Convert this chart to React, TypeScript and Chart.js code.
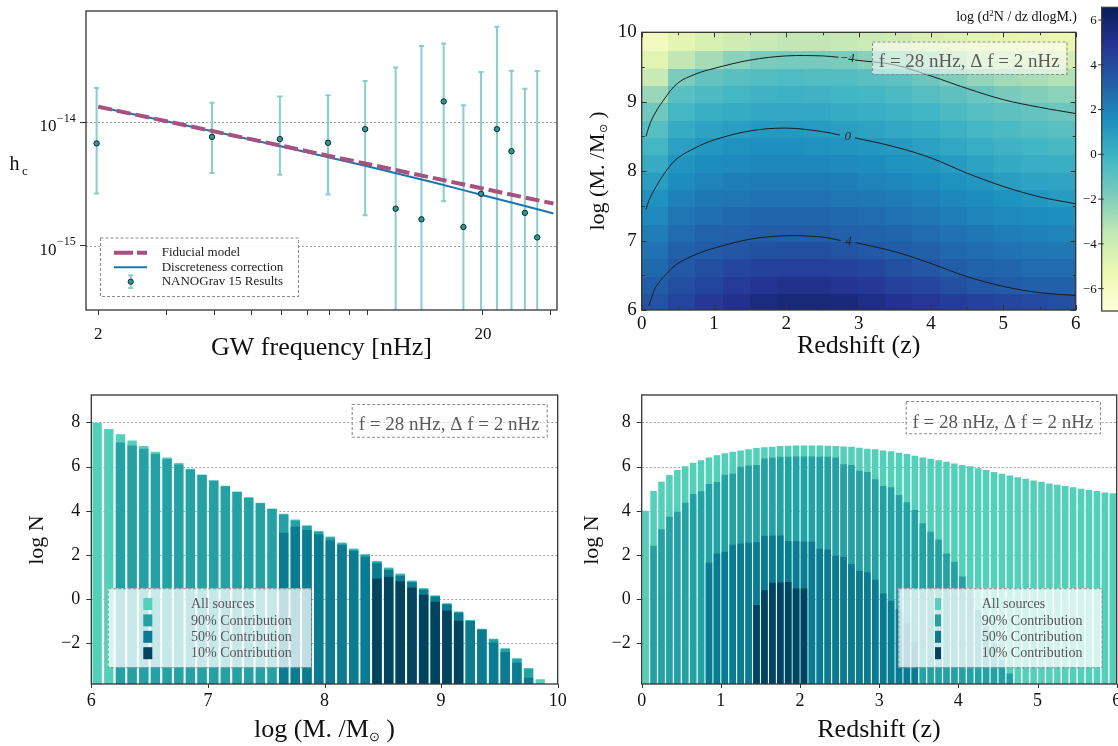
import React, { useEffect, useRef } from "react";
import { Chart, registerables } from "chart.js";
Chart.register(...registerables);

const SERIF = '"Liberation Serif", "Times New Roman", Times, serif';

// ================= Panel A: characteristic strain =================
const FREQ_NHZ = [1.98, 3.95, 5.93, 7.91, 9.88, 11.86, 13.84, 15.81, 17.79, 19.77, 21.74, 23.72, 25.7, 27.67];
const HC_MEDIAN = [6.76e-15, 7.64e-15, 7.33e-15, 6.84e-15, 8.83e-15, 2.0e-15, 1.64e-15, 1.48e-14, 1.42e-15, 2.64e-15, 8.83e-15, 5.85e-15, 1.85e-15, 1.17e-15];
const HC_UPPER = [1.905e-14, 1.445e-14, 1.62e-14, 1.66e-14, 2.17e-14, 2.79e-14, 4.16e-14, 4.37e-14, 1.38e-14, 2.56e-14, 5.97e-14, 2.62e-14, 1.875e-14, 2.61e-14];
const HC_LOWER = [2.65e-15, 3.89e-15, 3.76e-15, 2.61e-15, 1.77e-15, 1e-17, 1e-17, 2.3e-15, 1e-17, 1e-17, 1e-17, 1e-17, 1e-17, 1e-17];
const FIDUCIAL_F = [2.0, 30.5];
const FIDUCIAL_HC = [1.34e-14, 2.2e-15];
const DISCRETE_F = [2.0, 4.0, 6.0, 10.0, 15.0, 20.0, 25.0, 30.5];
const DISCRETE_HC = [1.34e-14, 8.43e-15, 6.38e-15, 4.41e-15, 3.24e-15, 2.57e-15, 2.15e-15, 1.83e-15];
const FREQ_MIN = 1.858;
const FREQ_MAX = 31.15;
const HC_MIN = 3.02e-16;
const HC_MAX = 8.0e-14;
const FREQ_TICKS = [2, 3, 4, 5, 6, 7, 8, 9, 10, 20, 30];
const FREQ_LABELED = [2, 20];
const HC_TICKS = [1e-15, 1e-14];

// ================= Panel B: heat map =================
const Z_EDGES = [0, 0.375, 0.75, 1.125, 1.5, 1.875, 2.25, 2.625, 3.0, 3.375, 3.75, 4.125, 4.5, 4.875, 5.25, 5.625, 6.0];
const M_EDGES = [6.0, 6.25, 6.5, 6.75, 7.0, 7.25, 7.5, 7.75, 8.0, 8.25, 8.5, 8.75, 9.0, 9.25, 9.5, 9.75, 10.0];
// one column per redshift bin, values from low mass (bottom) to high mass (top)
const HEAT_BY_Z = [
  [3.6, 3.2, 2.8, 2.5, 2.1, 1.7, 1.4, 0.9, 0.3, -0.3, -0.8, -1.5, -2.5, -3.7, -4.8, -5.9],
  [4.2, 3.8, 3.4, 3.1, 2.7, 2.4, 2.0, 1.6, 1.3, 0.8, 0.3, -0.3, -0.9, -1.8, -3.5, -4.9],
  [4.7, 4.2, 3.8, 3.3, 3.0, 2.6, 2.3, 1.9, 1.6, 1.2, 0.7, 0.1, -0.5, -1.2, -2.8, -4.4],
  [5.1, 4.6, 4.1, 3.5, 3.1, 2.8, 2.4, 2.1, 1.7, 1.4, 0.9, 0.3, -0.3, -0.9, -2.2, -4.0],
  [5.5, 4.9, 4.3, 3.7, 3.2, 2.9, 2.5, 2.2, 1.8, 1.5, 1.1, 0.5, -0.1, -0.7, -1.8, -3.7],
  [5.7, 5.1, 4.4, 3.8, 3.2, 2.9, 2.5, 2.2, 1.8, 1.5, 1.1, 0.5, 0.0, -0.6, -1.7, -3.5],
  [5.7, 5.1, 4.4, 3.8, 3.2, 2.9, 2.5, 2.2, 1.8, 1.4, 1.0, 0.5, -0.1, -0.7, -1.7, -3.5],
  [5.6, 4.9, 4.3, 3.6, 3.1, 2.8, 2.4, 2.1, 1.7, 1.3, 0.9, 0.3, -0.2, -0.7, -1.8, -3.6],
  [5.3, 4.7, 4.1, 3.4, 3.0, 2.7, 2.3, 1.9, 1.6, 1.2, 0.7, 0.2, -0.3, -0.9, -2.1, -3.8],
  [5.0, 4.4, 3.8, 3.2, 2.9, 2.5, 2.2, 1.8, 1.4, 1.1, 0.5, 0.0, -0.5, -1.0, -2.4, -4.0],
  [4.8, 4.1, 3.5, 3.1, 2.7, 2.3, 2.0, 1.6, 1.3, 0.8, 0.3, -0.2, -0.8, -1.4, -2.8, -4.3],
  [4.5, 3.8, 3.2, 2.8, 2.5, 2.1, 1.8, 1.4, 1.0, 0.5, 0.0, -0.5, -1.0, -1.9, -3.2, -4.6],
  [4.3, 3.5, 3.0, 2.7, 2.3, 1.9, 1.6, 1.2, 0.7, 0.2, -0.3, -0.8, -1.3, -2.4, -3.6, -4.8],
  [4.1, 3.3, 2.9, 2.5, 2.1, 1.7, 1.4, 0.9, 0.4, -0.1, -0.5, -1.0, -1.7, -2.7, -3.9, -5.0],
  [4.0, 3.1, 2.7, 2.4, 2.0, 1.6, 1.2, 0.7, 0.2, -0.2, -0.7, -1.2, -2.0, -2.9, -4.0, -5.1],
  [3.8, 3.1, 2.7, 2.3, 1.9, 1.5, 1.0, 0.6, 0.1, -0.4, -0.9, -1.4, -2.2, -3.1, -4.2, -5.2],
];
const CB_MIN = -7.0;
const CB_MAX = 6.57;
const CB_TICKS = [6, 4, 2, 0, -2, -4, -6];
const CONTOUR_A_Z = [0.06, 0.1, 0.16, 0.3, 0.5, 0.75, 1.0, 1.5, 2.0, 2.5, 2.72, 2.84, 2.95, 3.5, 4.0, 4.5, 5.0, 5.5, 6.0];
const CONTOUR_A_M = [8.5, 8.64, 8.79, 9.02, 9.27, 9.4, 9.48, 9.6, 9.66, 9.66, 9.64, null, 9.6, 9.53, 9.37, 9.19, 9.03, 8.92, 8.83];
const CONTOUR_B_Z = [0.06, 0.1, 0.2, 0.35, 0.5, 0.75, 1.0, 1.5, 2.0, 2.5, 2.74, 2.84, 2.95, 3.5, 4.0, 4.5, 5.0, 5.5, 6.0];
const CONTOUR_B_M = [7.45, 7.58, 7.78, 8.02, 8.19, 8.34, 8.45, 8.58, 8.62, 8.57, 8.52, null, 8.48, 8.35, 8.19, 7.97, 7.78, 7.63, 7.53];
const CONTOUR_C_Z = [0.1, 0.15, 0.2, 0.35, 0.5, 0.75, 1.0, 1.5, 2.0, 2.5, 2.75, 2.86, 2.96, 3.5, 4.0, 4.5, 5.0, 5.5, 6.0];
const CONTOUR_C_M = [6.06, 6.22, 6.34, 6.53, 6.67, 6.8, 6.89, 7.02, 7.07, 7.05, 7.0, null, 6.97, 6.84, 6.67, 6.48, 6.34, 6.25, 6.21];
const CONTOUR_LABEL_Z = [2.84, 2.85, 2.86];
const CONTOUR_LABEL_M = [9.62, 8.5, 6.985];
const CONTOUR_LABEL_TEXT = ["\u22124", "0", "4"];

// ================= Panels C, D: log N histograms =================
const MASS_BINS = [6.05, 6.15, 6.25, 6.35, 6.45, 6.55, 6.65, 6.75, 6.85, 6.95, 7.05, 7.15, 7.25, 7.35, 7.45, 7.55, 7.65, 7.75, 7.85, 7.95, 8.05, 8.15, 8.25, 8.35, 8.45, 8.55, 8.65, 8.75, 8.85, 8.95, 9.05, 9.15, 9.25, 9.35, 9.45, 9.55, 9.65, 9.75, 9.85, 9.95];
const MASS_ALL = [7.98, 7.7, 7.46, 7.18, 6.93, 6.67, 6.41, 6.16, 5.9, 5.64, 5.38, 5.13, 4.87, 4.61, 4.36, 4.1, 3.86, 3.6, 3.35, 3.09, 2.84, 2.56, 2.29, 2.04, 1.73, 1.43, 1.16, 0.84, 0.5, 0.18, -0.18, -0.56, -0.94, -1.34, -1.79, -2.22, -2.67, -3.12, -3.62, null];
const MASS_P90 = [null, null, 7.09, 6.96, 6.81, 6.57, 6.34, 6.1, 5.87, 5.62, 5.36, 5.11, 4.85, 4.59, 4.34, 4.08, 3.83, 3.56, 3.31, 3.05, 2.8, 2.52, 2.25, 2.0, 1.69, 1.39, 1.12, 0.8, 0.46, 0.14, -0.21, -0.59, -0.97, -1.36, -1.82, -2.25, -2.7, -3.15, null, null];
const MASS_P50 = [null, null, null, null, null, null, null, null, null, null, null, null, null, null, null, null, 3.01, 3.28, 3.13, 2.93, 2.67, 2.45, 2.18, 1.92, 1.62, 1.32, 1.05, 0.76, 0.43, 0.11, -0.24, -0.62, -0.99, -1.38, -1.96, -2.39, -2.88, -3.56, null, null];
const MASS_P10 = [null, null, null, null, null, null, null, null, null, null, null, null, null, null, null, null, null, null, null, null, null, null, null, null, 0.92, 1.01, 0.81, 0.53, 0.2, -0.12, -0.51, -0.98, null, null, null, null, null, null, null, null];

const Z_BINS = [0.05, 0.15, 0.25, 0.35, 0.45, 0.55, 0.65, 0.75, 0.85, 0.95, 1.05, 1.15, 1.25, 1.35, 1.45, 1.55, 1.65, 1.75, 1.85, 1.95, 2.05, 2.15, 2.25, 2.35, 2.45, 2.55, 2.65, 2.75, 2.85, 2.95, 3.05, 3.15, 3.25, 3.35, 3.45, 3.55, 3.65, 3.75, 3.85, 3.95, 4.05, 4.15, 4.25, 4.35, 4.45, 4.55, 4.65, 4.75, 4.85, 4.95, 5.05, 5.15, 5.25, 5.35, 5.45, 5.55, 5.65, 5.75, 5.85, 5.95];
const Z_ALL = [4.0, 4.89, 5.31, 5.62, 5.84, 6.02, 6.17, 6.29, 6.41, 6.51, 6.6, 6.67, 6.73, 6.79, 6.84, 6.87, 6.9, 6.93, 6.94, 6.95, 6.95, 6.95, 6.95, 6.94, 6.93, 6.91, 6.9, 6.85, 6.81, 6.78, 6.73, 6.69, 6.63, 6.57, 6.49, 6.41, 6.35, 6.29, 6.22, 6.14, 6.07, 6.01, 5.92, 5.84, 5.75, 5.68, 5.6, 5.52, 5.45, 5.37, 5.31, 5.24, 5.18, 5.12, 5.06, 5.0, 4.94, 4.89, 4.83, 4.79];
const Z_P90 = [null, 2.42, 3.16, 3.73, 3.96, 4.36, 4.76, 4.88, 5.21, 5.3, 5.63, 5.69, 5.99, 6.05, 6.07, 6.37, 6.41, 6.44, 6.44, 6.46, 6.46, 6.46, 6.44, 6.44, 6.41, 6.11, 6.07, 5.81, 5.75, 5.43, 5.12, 5.06, 4.71, 4.39, 4.03, 3.43, 3.05, 2.7, 2.07, 1.69, 1.02, 0.41, -0.49, -1.25, -2.0, -2.76, -3.36, null, null, null, null, null, null, null, null, null, null, null, null, null];
const Z_P50 = [null, null, null, null, null, null, null, null, 1.65, 2.07, 2.15, 2.46, 2.52, 2.55, 2.58, 2.87, 2.88, 2.88, 2.63, 2.62, 2.61, 2.6, 2.28, 2.25, 1.97, 1.92, 1.59, 1.27, 1.22, 0.88, 0.26, -0.07, -0.45, -1.1, -1.93, null, null, null, null, null, null, null, null, null, null, null, null, null, null, null, null, null, null, null, null, null, null, null, null, null];
const Z_P10 = [null, null, null, null, null, null, null, null, null, null, null, null, null, null, -0.27, 0.4, 0.74, 0.75, 0.78, 0.48, 0.48, null, null, null, null, null, null, null, null, null, null, null, null, null, null, null, null, null, null, null, null, null, null, null, null, null, null, null, null, null, null, null, null, null, null, null, null, null, null, null];
const LOGN_MIN = -3.84;
const LOGN_MAX = 9.24;
const LOGN_TICKS = [-2, 0, 2, 4, 6, 8];
const LEGEND_LABELS = ["All sources", "90% Contribution", "50% Contribution", "10% Contribution"];
const ANNOTATION = "f = 28 nHz, \u0394 f = 2 nHz";

// ================= styles =================
const COL_FID = "#a8517e";
const COL_DISC = "#1c76ae";
const COL_ERR = "#84d0ce";
const COL_PT = "#2a9896";
const BAR_COLS = ["#52d1ba", "#23a2a6", "#097b93", "#02445f"];
const YLGNBU = [[255, 255, 217], [237, 248, 177], [199, 233, 180], [127, 205, 187], [65, 182, 196], [29, 145, 192], [34, 94, 168], [37, 52, 148], [8, 29, 88]];

function cmap(v: number) {
  let t = (v - CB_MIN) / (CB_MAX - CB_MIN);
  t = Math.max(0, Math.min(1, t));
  const p = t * 8;
  const i = Math.min(7, Math.floor(p));
  const f = p - i;
  const a = YLGNBU[i], b = YLGNBU[i + 1];
  const c = (k: number) => Math.round(a[k] + (b[k] - a[k]) * f);
  return `rgb(${c(0)},${c(1)},${c(2)})`;
}

function fmtNum(v: number) {
  return v < 0 ? "\u2212" + Math.abs(v) : String(v);
}

type Seg = { t: string; s: number; dy?: number; st?: string };
function drawRich(ctx: any, segs: Seg[], x: number, y: number, align: string, rotate: boolean, color: string) {
  ctx.save();
  ctx.fillStyle = color;
  ctx.textBaseline = "alphabetic";
  ctx.textAlign = "left";
  const fontOf = (g: Seg) => `${g.st ? g.st + " " : ""}${g.s}px ${SERIF}`;
  let total = 0;
  const ws = segs.map((g) => {
    ctx.font = fontOf(g);
    const w = ctx.measureText(g.t).width;
    total += w;
    return w;
  });
  ctx.translate(x, y);
  if (rotate) ctx.rotate(-Math.PI / 2);
  let cx = align === "center" ? -total / 2 : align === "right" ? -total : 0;
  segs.forEach((g, i) => {
    ctx.font = fontOf(g);
    ctx.fillText(g.t, cx, g.dy || 0);
    cx += ws[i];
  });
  ctx.restore();
}

function frame(ctx: any, ca: any) {
  ctx.save();
  ctx.setLineDash([]);
  ctx.strokeStyle = "#333";
  ctx.lineWidth = 1.3;
  ctx.strokeRect(ca.left, ca.top, ca.right - ca.left, ca.bottom - ca.top);
  ctx.restore();
}

function hGrid(ctx: any, chart: any, values: number[]) {
  const ca = chart.chartArea;
  const s = chart.scales.y;
  ctx.save();
  ctx.strokeStyle = "#8a8a8a";
  ctx.lineWidth = 0.8;
  ctx.setLineDash([2, 2]);
  values.forEach((v) => {
    const y = Math.round(s.getPixelForValue(v)) + 0.5;
    ctx.beginPath();
    ctx.moveTo(ca.left, y);
    ctx.lineTo(ca.right, y);
    ctx.stroke();
  });
  ctx.restore();
}

function dashedBox(ctx: any, x0: number, y0: number, x1: number, y1: number, alpha: number) {
  ctx.save();
  ctx.fillStyle = `rgba(255,255,255,${alpha})`;
  ctx.fillRect(x0, y0, x1 - x0, y1 - y0);
  ctx.strokeStyle = "#8c8c8c";
  ctx.lineWidth = 1.1;
  ctx.setLineDash([3, 2]);
  ctx.strokeRect(x0 + 0.5, y0 + 0.5, x1 - x0, y1 - y0);
  ctx.restore();
}

function annotation(ctx: any, x0: number, y0: number, x1: number, y1: number, base: number, alpha: number) {
  dashedBox(ctx, x0, y0, x1, y1, alpha);
  ctx.save();
  ctx.fillStyle = "#5a5a5a";
  ctx.font = `19px ${SERIF}`;
  ctx.textAlign = "center";
  ctx.textBaseline = "alphabetic";
  ctx.fillText(ANNOTATION, (x0 + x1) / 2, base);
  ctx.restore();
}

const baseOpts = (padTop: number, padRight: number) => ({
  responsive: false,
  animation: false as const,
  events: [] as any[],
  layout: { padding: { top: padTop, right: padRight, left: 0, bottom: 0 } },
  plugins: { legend: { display: false }, tooltip: { enabled: false } },
});

// ---------------- Panel A ----------------
function buildTL() {
  const OX = 0, OY = 0;
  const plugin = {
    id: "panelA",
    beforeDatasetsDraw(chart: any) {
      const { ctx, chartArea: ca, scales } = chart;
      hGrid(ctx, chart, HC_TICKS);
      ctx.save();
      ctx.beginPath();
      ctx.rect(ca.left, ca.top, ca.right - ca.left, ca.bottom - ca.top);
      ctx.clip();
      ctx.strokeStyle = COL_ERR;
      ctx.lineWidth = 2;
      FREQ_NHZ.forEach((f, i) => {
        const x = scales.x.getPixelForValue(f);
        const yt = scales.y.getPixelForValue(HC_UPPER[i]);
        const yb = scales.y.getPixelForValue(HC_LOWER[i]);
        ctx.beginPath();
        ctx.moveTo(x, yt);
        ctx.lineTo(x, yb);
        ctx.moveTo(x - 2.5, yt);
        ctx.lineTo(x + 2.5, yt);
        ctx.moveTo(x - 2.5, yb);
        ctx.lineTo(x + 2.5, yb);
        ctx.stroke();
      });
      ctx.restore();
    },
    afterDatasetsDraw(chart: any) {
      const { ctx, chartArea: ca } = chart;
      ctx.save();
      ctx.translate(-OX, -OY);
      dashedBox(ctx, 100, 237.5, 298, 296, 0.9);
      ctx.strokeStyle = COL_FID;
      ctx.lineWidth = 4;
      ctx.setLineDash([19, 4]);
      ctx.beginPath();
      ctx.moveTo(114, 252.7);
      ctx.lineTo(147, 252.7);
      ctx.stroke();
      ctx.setLineDash([]);
      ctx.strokeStyle = COL_DISC;
      ctx.lineWidth = 2;
      ctx.beginPath();
      ctx.moveTo(114, 267.3);
      ctx.lineTo(147, 267.3);
      ctx.stroke();
      ctx.strokeStyle = COL_ERR;
      ctx.lineWidth = 2;
      ctx.beginPath();
      ctx.moveTo(130.7, 275.3);
      ctx.lineTo(130.7, 288);
      ctx.moveTo(128.2, 275.3);
      ctx.lineTo(133.2, 275.3);
      ctx.moveTo(128.2, 288);
      ctx.lineTo(133.2, 288);
      ctx.stroke();
      ctx.fillStyle = COL_PT;
      ctx.strokeStyle = "#0b2b2b";
      ctx.lineWidth = 1;
      ctx.beginPath();
      ctx.arc(130.7, 281.7, 2.6, 0, Math.PI * 2);
      ctx.fill();
      ctx.stroke();
      ctx.fillStyle = "#222";
      ctx.font = `13px ${SERIF}`;
      ctx.textBaseline = "middle";
      ctx.textAlign = "left";
      ctx.fillText("Fiducial model", 161.7, 252.7);
      ctx.fillText("Discreteness correction", 161.7, 267.3);
      ctx.fillText("NANOGrav 15 Results", 161.7, 281.7);
      ctx.restore();
      frame(ctx, ca);
    },
    afterDraw(chart: any) {
      const { ctx, scales } = chart;
      HC_TICKS.forEach((v) => {
        const y = scales.y.getPixelForValue(v);
        const exp = Math.round(Math.log10(v));
        drawRich(ctx, [{ t: "10", s: 17 }], 56.5 - OX, y + 8.7, "right", false, "#111");
        drawRich(ctx, [{ t: fmtNum(exp), s: 12 }], 57 - OX, y - 0.8, "left", false, "#111");
      });
      ctx.save();
      ctx.translate(-OX, -OY);
      drawRich(ctx, [{ t: "h", s: 20 }], 9.5, 170, "left", false, "#111");
      drawRich(ctx, [{ t: "c", s: 13 }], 22, 175, "left", false, "#111");
      drawRich(ctx, [{ t: "GW frequency [nHz]", s: 26 }], 321.5, 355, "center", false, "#111");
      ctx.restore();
    },
  };
  return {
    type: "scatter",
    data: {
      datasets: [
        {
          label: "NANOGrav 15 Results",
          data: FREQ_NHZ.map((f, i) => ({ x: f, y: HC_MEDIAN[i] })),
          pointRadius: 2.7,
          pointBackgroundColor: COL_PT,
          pointBorderColor: "#0b2b2b",
          pointBorderWidth: 1,
          order: 0,
        },
        {
          label: "Fiducial model",
          data: FIDUCIAL_F.map((f, i) => ({ x: f, y: FIDUCIAL_HC[i] })),
          showLine: true,
          borderColor: COL_FID,
          borderWidth: 4,
          borderDash: [14, 5],
          pointRadius: 0,
          order: 1,
        },
        {
          label: "Discreteness correction",
          data: DISCRETE_F.map((f, i) => ({ x: f, y: DISCRETE_HC[i] })),
          showLine: true,
          borderColor: COL_DISC,
          borderWidth: 2,
          pointRadius: 0,
          cubicInterpolationMode: "monotone",
          order: 2,
        },
      ],
    },
    options: {
      ...baseOpts(11, 8),
      scales: {
        x: {
          type: "logarithmic",
          min: FREQ_MIN,
          max: FREQ_MAX,
          afterBuildTicks: (s: any) => {
            s.ticks = FREQ_TICKS.map((v) => ({ value: v }));
          },
          afterFit: (s: any) => {
            s.height = 65;
            s.paddingLeft = 0;
            s.paddingRight = 0;
          },
          ticks: {
            autoSkip: false,
            maxRotation: 0,
            padding: 9,
            color: "#111",
            font: { family: SERIF, size: 17 },
            callback: (v: any) => (FREQ_LABELED.includes(Number(v)) ? String(v) : ""),
          },
          grid: { drawOnChartArea: false, drawTicks: true, tickLength: 5, tickColor: "#333", tickWidth: 1, offset: false },
          border: { display: false },
        },
        y: {
          type: "logarithmic",
          min: HC_MIN,
          max: HC_MAX,
          afterBuildTicks: (s: any) => {
            s.ticks = HC_TICKS.map((v) => ({ value: v }));
          },
          afterFit: (s: any) => {
            s.width = 86;
            s.paddingTop = 0;
            s.paddingBottom = 0;
          },
          ticks: { callback: () => "", font: { family: SERIF, size: 17 } },
          grid: { drawOnChartArea: false, drawTicks: true, tickLength: 6, tickColor: "#333", tickWidth: 1 },
          border: { display: false },
        },
      },
    },
    plugins: [plugin],
  };
}

// ---------------- Panel B ----------------
function buildTR() {
  const OX = 565, OY = 0;
  const plugin = {
    id: "panelB",
    beforeDatasetsDraw(chart: any) {
      const { ctx, chartArea: ca, scales } = chart;
      ctx.save();
      ctx.beginPath();
      ctx.rect(ca.left, ca.top, ca.right - ca.left, ca.bottom - ca.top);
      ctx.clip();
      HEAT_BY_Z.forEach((col, j) => {
        const x0 = scales.x.getPixelForValue(Z_EDGES[j]);
        const x1 = scales.x.getPixelForValue(Z_EDGES[j + 1]);
        col.forEach((v, i) => {
          const yb = scales.y.getPixelForValue(M_EDGES[i]);
          const yt = scales.y.getPixelForValue(M_EDGES[i + 1]);
          ctx.fillStyle = cmap(v);
          ctx.fillRect(Math.floor(x0), Math.floor(yt), Math.ceil(x1) - Math.floor(x0) + 1, Math.ceil(yb) - Math.floor(yt) + 1);
        });
      });
      ctx.restore();
    },
    afterDatasetsDraw(chart: any) {
      const { ctx, chartArea: ca, scales } = chart;
      ctx.save();
      ctx.fillStyle = "#222";
      ctx.font = `italic 13px ${SERIF}`;
      ctx.textAlign = "center";
      ctx.textBaseline = "middle";
      CONTOUR_LABEL_TEXT.forEach((t, i) => {
        ctx.fillText(t, scales.x.getPixelForValue(CONTOUR_LABEL_Z[i]), scales.y.getPixelForValue(CONTOUR_LABEL_M[i]));
      });
      ctx.restore();
      ctx.save();
      ctx.strokeStyle = "#333";
      ctx.lineWidth = 1;
      for (let z = 0; z <= 6.001; z += 0.5) {
        const x = Math.round(scales.x.getPixelForValue(z)) + 0.5;
        const len = Math.abs(z - Math.round(z)) < 1e-6 ? 5 : 3;
        ctx.beginPath();
        ctx.moveTo(x, ca.bottom);
        ctx.lineTo(x, ca.bottom - len);
        ctx.moveTo(x, ca.top);
        ctx.lineTo(x, ca.top + len);
        ctx.stroke();
      }
      for (let m = 6; m <= 10.001; m += 0.5) {
        const y = Math.round(scales.y.getPixelForValue(m)) + 0.5;
        const len = Math.abs(m - Math.round(m)) < 1e-6 ? 5 : 3;
        ctx.beginPath();
        ctx.moveTo(ca.left, y);
        ctx.lineTo(ca.left + len, y);
        ctx.moveTo(ca.right, y);
        ctx.lineTo(ca.right - len, y);
        ctx.stroke();
      }
      ctx.restore();
      frame(ctx, ca);
      ctx.save();
      ctx.translate(-OX, -OY);
      annotation(ctx, 872, 41.5, 1066.5, 74, 66.5, 0.55);
      const cbL = 1101.7, cbT = 7.3, cbB = 311, cbR = 1135;
      const g = ctx.createLinearGradient(0, cbB, 0, cbT);
      YLGNBU.forEach((c, k) => g.addColorStop(k / 8, `rgb(${c[0]},${c[1]},${c[2]})`));
      ctx.fillStyle = g;
      ctx.fillRect(cbL, cbT, cbR - cbL, cbB - cbT);
      ctx.strokeStyle = "#333";
      ctx.lineWidth = 1.2;
      ctx.strokeRect(cbL, cbT, cbR - cbL, cbB - cbT);
      ctx.fillStyle = "#111";
      ctx.font = `13px ${SERIF}`;
      ctx.textAlign = "right";
      ctx.textBaseline = "middle";
      ctx.lineWidth = 1;
      CB_TICKS.forEach((v) => {
        const y = cbB - ((v - CB_MIN) / (CB_MAX - CB_MIN)) * (cbB - cbT);
        ctx.beginPath();
        ctx.moveTo(cbL - 3.5, y);
        ctx.lineTo(cbL + 2, y);
        ctx.stroke();
        ctx.fillText(fmtNum(v), cbL - 5, y + 0.5);
      });
      drawRich(
        ctx,
        [
          { t: "log (d", s: 14 },
          { t: "2", s: 9, dy: -5 },
          { t: "N / dz dlogM.)", s: 14 },
        ],
        1077,
        21,
        "right",
        false,
        "#111"
      );
      drawRich(ctx, [{ t: "Redshift (z)", s: 26 }], 858.7, 353, "center", false, "#111");
      drawRich(
        ctx,
        [
          { t: "log (M. /M", s: 22 },
          { t: "\u2299", s: 11, dy: 3 },
          { t: " )", s: 22 },
        ],
        603.5,
        171,
        "center",
        true,
        "#111"
      );
      ctx.restore();
    },
  };
  const contour = (zs: number[], ms: (number | null)[]) => ({
    data: zs.map((z, i) => ({ x: z, y: ms[i] })),
    showLine: true,
    borderColor: "#1c1c1c",
    borderWidth: 1,
    pointRadius: 0,
    tension: 0.35,
    spanGaps: false,
  });
  return {
    type: "scatter",
    data: {
      datasets: [contour(CONTOUR_A_Z, CONTOUR_A_M), contour(CONTOUR_B_Z, CONTOUR_B_M), contour(CONTOUR_C_Z, CONTOUR_C_M)],
    },
    options: {
      ...baseOpts(32.3, 1118 - 1075.7),
      scales: {
        x: {
          type: "linear",
          min: 0,
          max: 6,
          afterBuildTicks: (s: any) => {
            s.ticks = [0, 1, 2, 3, 4, 5, 6].map((v) => ({ value: v }));
          },
          afterFit: (s: any) => {
            s.height = 65;
            s.paddingLeft = 0;
            s.paddingRight = 0;
          },
          ticks: { padding: 3, color: "#111", font: { family: SERIF, size: 19 }, maxRotation: 0, autoSkip: false },
          grid: { drawOnChartArea: false, drawTicks: false },
          border: { display: false },
        },
        y: {
          type: "linear",
          min: 6,
          max: 10,
          afterBuildTicks: (s: any) => {
            s.ticks = [6, 7, 8, 9, 10].map((v) => ({ value: v }));
          },
          afterFit: (s: any) => {
            s.width = 641.7 - 565;
            s.paddingTop = 0;
            s.paddingBottom = 0;
          },
          ticks: { padding: 5, color: "#111", font: { family: SERIF, size: 19 } },
          grid: { drawOnChartArea: false, drawTicks: false },
          border: { display: false },
        },
      },
    },
    plugins: [plugin],
  };
}

// ---------------- Panels C, D ----------------
function buildHist(opts: any) {
  const { OX, OY, bins, series, xmin, xmax, xticks, yWidth, padRight, pct, legend, box, xTitle, xTitleX, yTitleX } = opts;
  const plugin = {
    id: "hist" + OX,
    beforeDatasetsDraw(chart: any) {
      hGrid(chart.ctx, chart, LOGN_TICKS);
    },
    afterDatasetsDraw(chart: any) {
      const { ctx, chartArea: ca, scales } = chart;
      ctx.save();
      ctx.translate(-OX, -OY);
      annotation(ctx, box[0], box[1], box[2], box[3], box[4], 0.5);
      dashedBox(ctx, legend.x0, 588.3, legend.x1, 667.3, 0.75);
      const ys = [604, 620.4, 636.8, 653.2];
      LEGEND_LABELS.forEach((lab, k) => {
        ctx.fillStyle = BAR_COLS[k];
        ctx.fillRect(legend.px, ys[k] - 6, legend.pw, 12);
        ctx.fillStyle = "#555";
        ctx.font = `14px ${SERIF}`;
        ctx.textAlign = "left";
        ctx.textBaseline = "middle";
        ctx.fillText(lab, legend.tx, ys[k] + 0.5);
      });
      ctx.restore();
      frame(ctx, ca);
      // outward tick marks
      ctx.save();
      ctx.strokeStyle = "#333";
      ctx.lineWidth = 1;
      xticks.forEach((v: number) => {
        const x = Math.round(scales.x.getPixelForValue(v)) + 0.5;
        ctx.beginPath();
        ctx.moveTo(x, ca.bottom);
        ctx.lineTo(x, ca.bottom + 4);
        ctx.stroke();
      });
      LOGN_TICKS.forEach((v) => {
        const y = Math.round(scales.y.getPixelForValue(v)) + 0.5;
        ctx.beginPath();
        ctx.moveTo(ca.left, y);
        ctx.lineTo(ca.left - 5, y);
        ctx.stroke();
      });
      ctx.restore();
    },
    afterDraw(chart: any) {
      const { ctx } = chart;
      ctx.save();
      ctx.translate(-OX, -OY);
      drawRich(ctx, xTitle, xTitleX, 737, "center", false, "#111");
      drawRich(ctx, [{ t: "log N", s: 22 }], yTitleX, 540, "center", true, "#111");
      ctx.restore();
    },
  };
  const mk = (vals: (number | null)[], k: number) => ({
    type: "bar",
    data: bins.map((b: number, i: number) => ({ x: b, y: vals[i] })),
    backgroundColor: BAR_COLS[k],
    borderWidth: 0,
    grouped: false,
    base: LOGN_MIN,
    barPercentage: pct,
    categoryPercentage: 1,
    order: 4 - k,
  });
  return {
    type: "bar",
    data: { datasets: series.map((s: any, k: number) => mk(s, k)) },
    options: {
      ...baseOpts(20, padRight),
      scales: {
        x: {
          type: "linear",
          min: xmin,
          max: xmax,
          offset: false,
          afterBuildTicks: (s: any) => {
            s.ticks = xticks.map((v: number) => ({ value: v }));
          },
          afterFit: (s: any) => {
            s.height = 62;
            s.paddingLeft = 0;
            s.paddingRight = 0;
          },
          ticks: { padding: 6, color: "#111", font: { family: SERIF, size: 18 }, maxRotation: 0, autoSkip: false },
          grid: { display: false, drawOnChartArea: false, drawTicks: false },
          border: { display: false },
        },
        y: {
          type: "linear",
          min: LOGN_MIN,
          max: LOGN_MAX,
          afterBuildTicks: (s: any) => {
            s.ticks = LOGN_TICKS.map((v) => ({ value: v }));
          },
          afterFit: (s: any) => {
            s.width = yWidth;
            s.paddingTop = 0;
            s.paddingBottom = 0;
          },
          ticks: { padding: 11, color: "#111", font: { family: SERIF, size: 18 }, callback: (v: any) => fmtNum(Number(v)) },
          grid: { display: false, drawOnChartArea: false, drawTicks: false },
          border: { display: false },
        },
      },
    },
    plugins: [plugin],
  };
}

const MASS_TITLE: Seg[] = [
  { t: "log (M. /M", s: 26 },
  { t: "\u2299", s: 13, dy: 4 },
  { t: " )", s: 26 },
];

function buildBL() {
  return buildHist({
    OX: 0,
    OY: 375,
    bins: MASS_BINS,
    series: [MASS_ALL, MASS_P90, MASS_P50, MASS_P10],
    xmin: 6,
    xmax: 10,
    xticks: [6, 7, 8, 9, 10],
    yWidth: 91.3,
    padRight: 575 - 557.7,
    pct: 0.8,
    legend: { x0: 107.7, x1: 311, px: 143.3, pw: 9, tx: 191 },
    box: [351.7, 404, 546.7, 436.7, 429.5],
    xTitle: MASS_TITLE,
    xTitleX: 324.5,
    yTitleX: 43,
  });
}

function buildBR() {
  return buildHist({
    OX: 575,
    OY: 375,
    bins: Z_BINS,
    series: [Z_ALL, Z_P90, Z_P50, Z_P10],
    xmin: 0,
    xmax: 6,
    xticks: [0, 1, 2, 3, 4, 5, 6],
    yWidth: 641.7 - 575,
    padRight: 1118 - 1116.7,
    pct: 0.82,
    legend: { x0: 898.3, x1: 1101.7, px: 935, pw: 6, tx: 981.7 },
    box: [905.7, 401, 1100, 433.3, 428],
    xTitle: [{ t: "Redshift (z)", s: 26 }],
    xTitleX: 879,
    yTitleX: 597.5,
  });
}

function Panel({ x, y, w, h, build }: any) {
  const ref = useRef<HTMLCanvasElement>(null);
  useEffect(() => {
    const chart = new Chart(ref.current as any, build() as any);
    return () => chart.destroy();
  }, []);
  return <canvas ref={ref} width={w} height={h} style={{ position: "absolute", left: x, top: y, width: w, height: h }} />;
}

export default function App() {
  return (
    <div style={{ position: "absolute", left: 0, top: 0, width: 1118, height: 746, background: "#fff", overflow: "hidden" }}>
      <Panel x={0} y={0} w={565} h={375} build={buildTL} />
      <Panel x={565} y={0} w={553} h={375} build={buildTR} />
      <Panel x={0} y={375} w={575} h={371} build={buildBL} />
      <Panel x={575} y={375} w={543} h={371} build={buildBR} />
    </div>
  );
}
